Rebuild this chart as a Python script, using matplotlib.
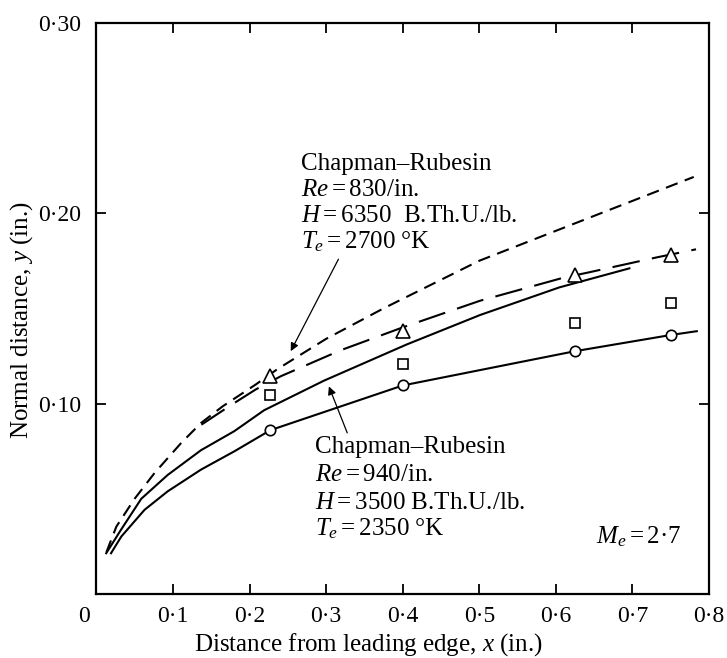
import matplotlib
matplotlib.use("Agg")
import matplotlib.pyplot as plt

plt.rcParams["font.family"] = ["Liberation Serif", "DejaVu Serif"]
plt.rcParams["mathtext.fontset"] = "custom"
plt.rcParams["mathtext.rm"] = "Liberation Serif"
plt.rcParams["mathtext.it"] = "Liberation Serif:italic"
plt.rcParams["lines.scale_dashes"] = False

# measured points (open markers)
x_meas = [0.227, 0.40, 0.625, 0.75]
y_circle = [0.086, 0.1095, 0.1275, 0.136]
y_square = [0.1044, 0.1209, 0.1425, 0.153]
y_triangle = [0.1144, 0.138, 0.1674, 0.1779]

# faired curve through the circles
x_circ_curve = [0.019, 0.0325, 0.0628, 0.093, 0.1365, 0.180, 0.227, 0.40, 0.625, 0.75, 0.784]
y_circ_curve = [0.0214, 0.0302, 0.0442, 0.0539, 0.0653, 0.0749, 0.086, 0.1095, 0.1275, 0.136, 0.138]

# Chapman-Rubesin, Re = 940/in.
x_cr940 = [0.0127, 0.032, 0.0585, 0.093, 0.1365, 0.180, 0.219, 0.297, 0.405, 0.501, 0.6045, 0.696]
y_cr940 = [0.0214, 0.0337, 0.0500, 0.0625, 0.0755, 0.0855, 0.0965, 0.1120, 0.1310, 0.1465, 0.1610, 0.1710]

# Chapman-Rubesin, Re = 830/in.
x_cr830 = [0.013, 0.026, 0.0498, 0.0758, 0.1106, 0.1366, 0.165, 0.208, 0.236, 0.30, 0.375, 0.50, 0.64, 0.78]
y_cr830 = [0.022, 0.0354, 0.0500, 0.0635, 0.0793, 0.0898, 0.0986, 0.110, 0.118, 0.134, 0.150, 0.175, 0.197, 0.219]

# long-dash curve through the triangles
x_tri_curve = [0.137, 0.175, 0.208, 0.241, 0.319, 0.40, 0.501, 0.609, 0.642, 0.731, 0.783]
y_tri_curve = [0.0889, 0.099, 0.1074, 0.1144, 0.128, 0.140, 0.154, 0.166, 0.1688, 0.1767, 0.181]

xticks = [0.1, 0.2, 0.3, 0.4, 0.5, 0.6, 0.7, 0.8]
xtick_labels = ["0·1", "0·2", "0·3", "0·4", "0·5", "0·6", "0·7", "0·8"]
yticks = [0.10, 0.20, 0.30]
ytick_labels = ["0·10", "0·20", "0·30"]

fig = plt.figure(figsize=(7.27, 6.58), dpi=100)
ax = fig.add_axes([0.1327, 0.0973, 0.8426, 0.8682])

lw = 1.5
ax.plot(x_circ_curve, y_circ_curve, color="black", lw=lw)
ax.plot(x_cr940, y_cr940, color="black", lw=lw)
ax.plot(x_cr830, y_cr830, color="black", lw=lw, dashes=(9, 5.5))
ax.plot(x_tri_curve, y_tri_curve, color="black", lw=lw, dashes=(20, 9))

ax.plot(x_meas, y_circle, "o", ms=7.5, mfc="white", mec="black", mew=1.2)
ax.plot(x_meas, y_square, "s", ms=7, mfc="white", mec="black", mew=1.2)
ax.plot(x_meas, y_triangle, "^", ms=9.5, mfc="white", mec="black", mew=1.2)

ax.set_xlim(0, 0.8)
ax.set_ylim(0, 0.30)
ax.set_xticks(xticks)
ax.set_xticklabels(xtick_labels)
ax.set_yticks(yticks)
ax.set_yticklabels(ytick_labels)
ax.tick_params(direction="in", length=7, width=1.3, top=True, right=True,
               labelsize=17)
ax.tick_params(axis="x", pad=9)
ax.tick_params(axis="y", pad=11)
for s in ax.spines.values():
    s.set_linewidth(1.6)

ax.annotate("0", xy=(-0.016, 0), xycoords=("data", "axes fraction"),
            xytext=(0, -9), textcoords="offset points",
            ha="center", va="top", fontsize=17, annotation_clip=False)

ax.set_xlabel("Distance from leading edge, $x$ (in.)", fontsize=18)
ax.xaxis.label.set_va("center")
ax.xaxis.set_label_coords(0.444, -0.089)
ax.set_ylabel("Normal distance, $y$ (in.)", fontsize=18)
ax.yaxis.label.set_va("center")
ax.yaxis.set_label_coords(-0.122, 0.479)

fs = 18
upper = ["Chapman–Rubesin", r"$Re = $830/in.", r"$H = $6350  B.Th.U./lb.",
         r"$T_e = $2700 °K"]
upper_y = [0.2224, 0.2089, 0.1953, 0.1816]
for s, yy in zip(upper, upper_y):
    ax.text(0.267, yy, s, fontsize=fs, va="baseline", ha="left")

lower = ["Chapman–Rubesin", r"$Re = $940/in.", r"$H = $3500 B.Th.U./lb.",
         r"$T_e = $2350 °K"]
lower_y = [0.0742, 0.0595, 0.0447, 0.0305]
for s, yy in zip(lower, lower_y):
    ax.text(0.286, yy, s, fontsize=fs, va="baseline", ha="left")

ax.text(0.653, 0.0268, r"$M_e = $2·7", fontsize=fs, va="baseline", ha="left")

arrow = dict(arrowstyle="-|>", color="black", lw=0.9, mutation_scale=12,
             shrinkA=0, shrinkB=0)
ax.annotate("", xy=(0.2537, 0.1275), xytext=(0.316, 0.1758), arrowprops=arrow)
ax.annotate("", xy=(0.3035, 0.109), xytext=(0.3275, 0.0846), arrowprops=arrow)

fig.savefig("out.png", dpi=100)
